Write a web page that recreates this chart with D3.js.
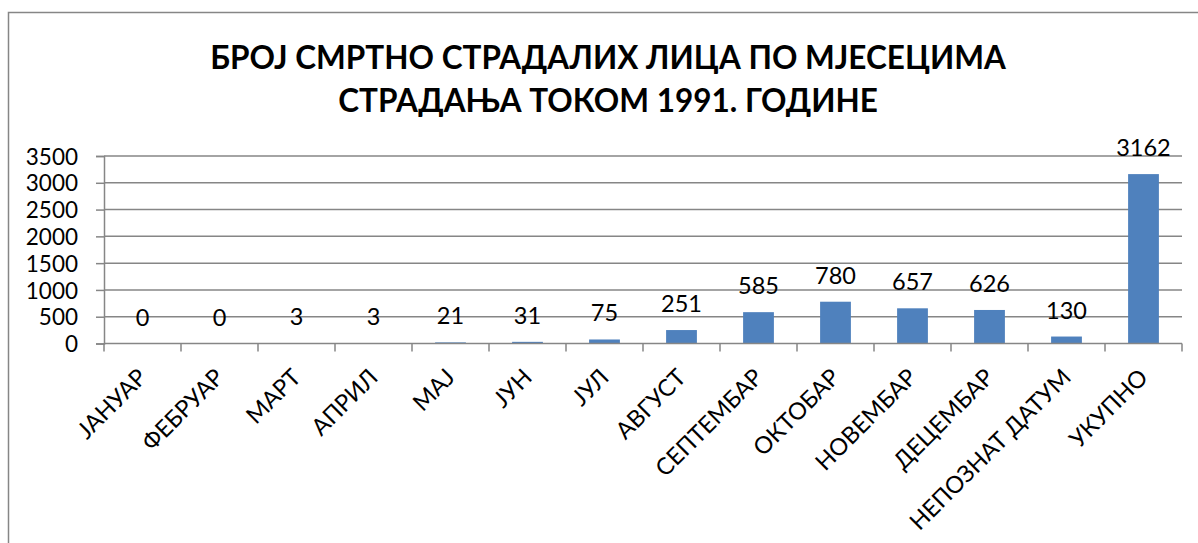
<!DOCTYPE html>
<html>
<head>
<meta charset="utf-8">
<script src="https://cdn.jsdelivr.net/npm/d3@7"></script>
<style>
  body { margin: 0; background: #fff; }
  text { font-family: Lato, "Open Sans", sans-serif; fill: #000; }
</style>
</head>
<body>
<div id="chart"></div>
<script>
// data
var months = ["ЈАНУАР", "ФЕБРУАР", "МАРТ", "АПРИЛ", "МАЈ", "ЈУН", "ЈУЛ", "АВГУСТ",
  "СЕПТЕМБАР", "ОКТОБАР", "НОВЕМБАР", "ДЕЦЕМБАР", "НЕПОЗНАТ ДАТУМ", "УКУПНО"]
var deaths = [0, 0, 3, 3, 21, 31, 75, 251, 585, 780, 657, 626, 130, 3162]
var yTicks = [0, 500, 1000, 1500, 2000, 2500, 3000, 3500]
var titleLines = ["БРОЈ СМРТНО СТРАДАЛИХ ЛИЦА ПО МЈЕСЕЦИМА", "СТРАДАЊА ТОКОМ 1991. ГОДИНЕ"]

var w = 1198, h = 543
var plot_left = 104, plot_right = 1182, plot_top = 156, plot_bottom = 343.5
var gray = "#868686"

var svg = d3.select("#chart").append("svg")
  .attr("width", w)
  .attr("height", h)

// chart frame, runs off the right and bottom edges
svg.append("rect")
  .attr("x", 8.5).attr("y", 12.5)
  .attr("width", 1400).attr("height", 800)
  .attr("fill", "none")
  .attr("stroke", gray)
  .attr("stroke-width", 1.5)

var title = svg.append("text")
  .attr("text-anchor", "middle")
  .style("font-weight", "bold")
  .style("font-size", "31.5px")
title.selectAll("tspan")
  .data(titleLines)
  .enter().append("tspan")
  .attr("x", 608)
  .attr("y", function(d, i) { return 69 + i * 43 })
  .text(function(d) { return d })

var x = d3.scaleBand().domain(months).range([plot_left, plot_right]).paddingInner(0.6).paddingOuter(0.3)
var y = d3.scaleLinear().domain([0, 3500]).range([plot_bottom, plot_top])

// gridlines
svg.append("g")
  .selectAll("line")
  .data(yTicks.slice(1))
  .enter().append("line")
  .attr("x1", plot_left).attr("x2", plot_right)
  .attr("y1", function(d) { return y(d) })
  .attr("y2", function(d) { return y(d) })
  .attr("stroke", gray)
  .attr("stroke-width", 1.5)

var yAxis = d3.axisLeft(y).tickValues(yTicks).tickSize(8).tickPadding(18).tickFormat(d3.format("d"))
var gy = svg.append("g")
  .attr("transform", "translate(" + plot_left + ",0)")
  .call(yAxis)
gy.select(".domain").attr("stroke", gray).attr("stroke-width", 1.5)
gy.selectAll(".tick line").attr("stroke", gray).attr("stroke-width", 1.5)
gy.selectAll(".tick text")
  .style("font-size", "22.5px")
  .attr("fill", "#000")
  .attr("dy", "0.36em")

// bars
svg.append("g")
  .selectAll("rect")
  .data(deaths)
  .enter().append("rect")
  .attr("x", function(d, i) { return x(months[i]) })
  .attr("y", function(d) { return y(d) })
  .attr("width", x.bandwidth())
  .attr("height", function(d) { return plot_bottom - y(d) })
  .attr("fill", "#4F81BD")

// value labels
svg.append("g")
  .selectAll("text")
  .data(deaths)
  .enter().append("text")
  .attr("x", function(d, i) { return x(months[i]) + x.bandwidth() / 2 })
  .attr("y", function(d) { return y(d) - 18 })
  .attr("text-anchor", "middle")
  .style("font-size", "23.5px")
  .text(function(d) { return d })

// x axis line and ticks at category boundaries
var step = (plot_right - plot_left) / months.length
svg.append("line")
  .attr("x1", plot_left).attr("x2", plot_right)
  .attr("y1", plot_bottom).attr("y2", plot_bottom)
  .attr("stroke", gray).attr("stroke-width", 1.5)
svg.append("g")
  .selectAll("line")
  .data(d3.range(months.length + 1))
  .enter().append("line")
  .attr("x1", function(i) { return plot_left + i * step })
  .attr("x2", function(i) { return plot_left + i * step })
  .attr("y1", plot_bottom).attr("y2", plot_bottom + 8)
  .attr("stroke", gray).attr("stroke-width", 1.5)

// rotated category labels
svg.append("g")
  .selectAll("text")
  .data(months)
  .enter().append("text")
  .attr("text-anchor", "end")
  .attr("dy", "0.35em")
  .style("font-size", "23.5px")
  .attr("transform", function(d) {
    var cx = x(d) + x.bandwidth() / 2
    return "translate(" + cx + "," + 373 + ") rotate(-45)"
  })
  .text(function(d) { return d })
</script>
</body>
</html>
